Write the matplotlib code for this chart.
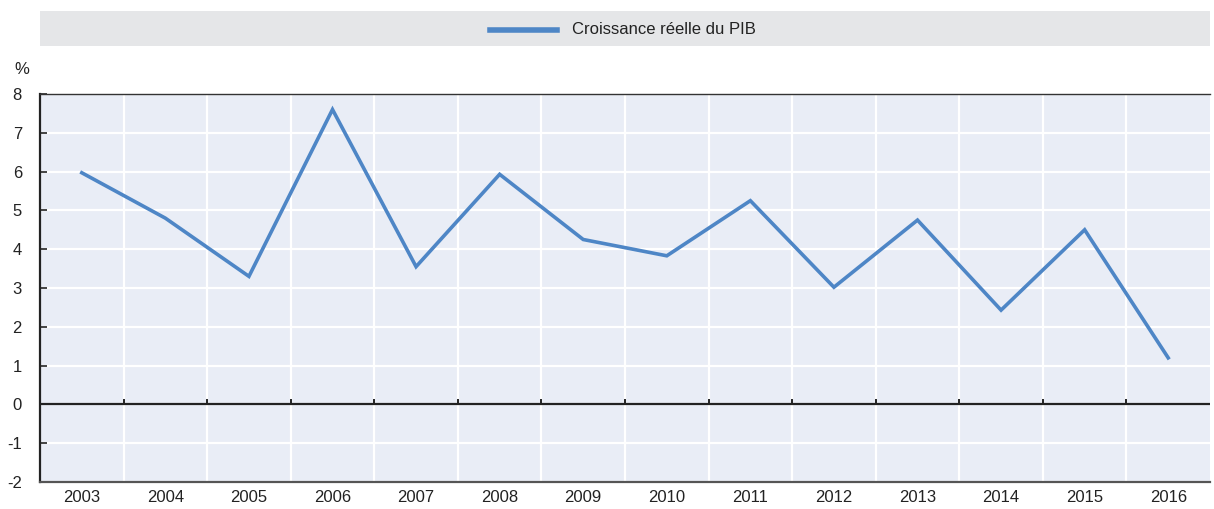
import matplotlib
matplotlib.use("Agg")
import matplotlib.pyplot as plt
from matplotlib.patches import Rectangle
from matplotlib.lines import Line2D

years = ['2003', '2004', '2005', '2006', '2007', '2008', '2009',
         '2010', '2011', '2012', '2013', '2014', '2015', '2016']
growth = [5.97, 4.8, 3.3, 7.6, 3.55, 5.93, 4.25, 3.83, 5.25, 3.02, 4.75, 2.43, 4.5, 1.2]
y_ticks = [-2, -1, 0, 1, 2, 3, 4, 5, 6, 7, 8]
series_label = 'Croissance réelle du PIB'

plt.rcParams['font.family'] = ['Liberation Sans', 'DejaVu Sans']

fig = plt.figure(figsize=(12.14, 5.09), dpi=100)
ax = fig.add_axes([40 / 1214, 1 - 482 / 509, 1170 / 1214, 388 / 509])
ax.set_facecolor('#e9edf6')

x = list(range(len(years)))
ax.plot(x, growth, color='#4e86c6', linewidth=2.6, zorder=3, solid_joinstyle='miter')

ax.set_xlim(-0.5, len(years) - 0.5)
ax.set_ylim(-2, 8)
ax.set_yticks(y_ticks)
ax.set_yticklabels([str(v) for v in y_ticks], fontsize=12, color='#222222')
ax.set_xticks(x)
ax.set_xticklabels(years, fontsize=12, color='#222222')
ax.set_xticks([i + 0.5 for i in x[:-1]], minor=True)
ax.tick_params(axis='x', which='both', length=0, pad=6)
ax.tick_params(axis='y', length=5, width=1.2, color='#222222', pad=13, direction='in')

ax.grid(True, axis='y', which='major', color='white', linewidth=1.6)
ax.grid(True, axis='x', which='minor', color='white', linewidth=1.6)
ax.set_axisbelow(True)

ax.spines['right'].set_visible(False)
ax.spines['top'].set_color('#333333')
ax.spines['top'].set_linewidth(1.0)
ax.spines['left'].set_color('#222222')
ax.spines['left'].set_linewidth(1.6)
ax.spines['bottom'].set_color('#555555')
ax.spines['bottom'].set_linewidth(1.6)

ax.axhline(0, color='#222222', linewidth=1.6, zorder=2)
for b in [i + 0.5 for i in x[:-1]]:
    ax.plot([b, b], [0, 0.12], color='#222222', linewidth=1.4, zorder=2)

fig.text(14 / 1214, 1 - 70 / 509, '%', fontsize=12, color='#222222', va='center')

# legend band
fig.patches.append(Rectangle((40 / 1214, 1 - 46 / 509), 1170 / 1214, 35 / 509,
                             transform=fig.transFigure, facecolor='#e5e6e8',
                             edgecolor='none', zorder=0))
fig.lines.append(Line2D([490 / 1214, 557 / 1214], [1 - 30 / 509, 1 - 30 / 509],
                        transform=fig.transFigure, color='#4e86c6', linewidth=4))
fig.text(572 / 1214, 1 - 30 / 509, series_label, fontsize=12, color='#222222', va='center')

fig.savefig('out.png', dpi=100)
